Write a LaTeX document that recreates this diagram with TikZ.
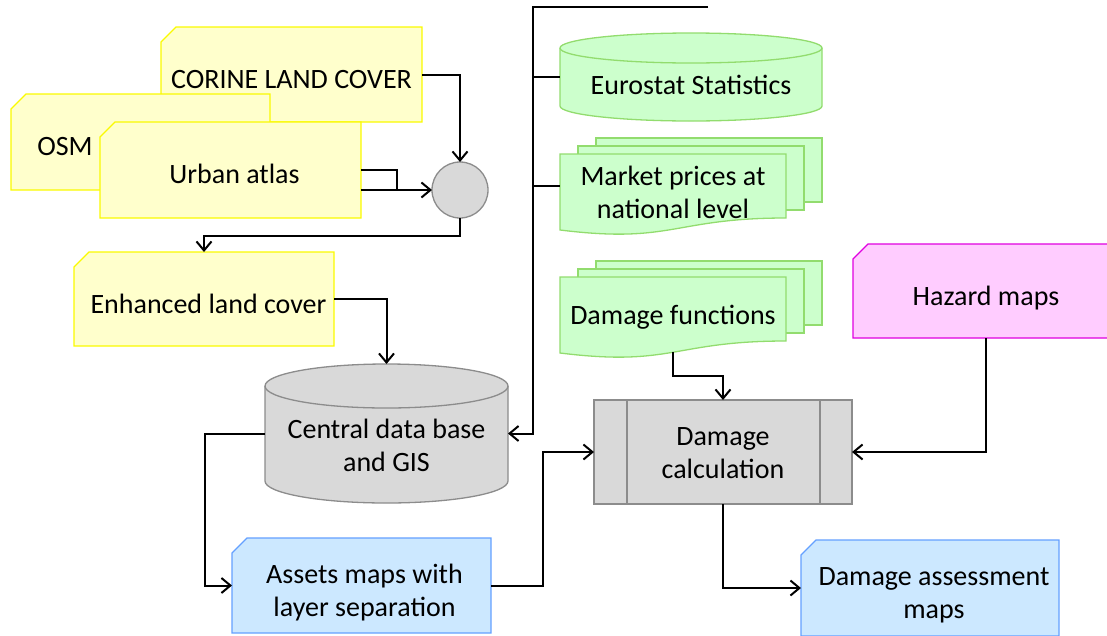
\documentclass[tikz,border=0pt]{standalone}
\usepackage{fontspec}
\setmainfont{Carlito}
\usetikzlibrary{arrows.meta,calc,backgrounds}
\definecolor{yfill}{RGB}{255,255,204}
\definecolor{ydraw}{RGB}{250,250,0}
\definecolor{gfill}{RGB}{204,255,204}
\definecolor{gdraw}{RGB}{146,220,110}
\definecolor{kfill}{RGB}{217,217,217}
\definecolor{kdraw}{RGB}{140,140,140}
\definecolor{pfill}{RGB}{255,204,255}
\definecolor{pdraw}{RGB}{224,0,224}
\definecolor{bfill}{RGB}{204,232,255}
\definecolor{bdraw}{RGB}{100,160,255}
% card (cut north-west corner)
\newcommand\cardshape[3]{\filldraw[fill=#1,draw=#2,shapeline] ($(#3.north west)+(0,15)$) -- ($(#3.north west)+(15,0)$) -- (#3.north east) -- (#3.south east) -- (#3.south west) -- cycle;}
% multi-document
\newcommand\docshape[1]{%
  \filldraw[fill=gfill,draw=gdraw,shapeline] ($(#1.north west)+(36,-16)$) rectangle ($(#1.south east)+(36,-16)$);
  \filldraw[fill=gfill,draw=gdraw,shapeline] ($(#1.north west)+(18,-8)$) rectangle ($(#1.south east)+(18,-8)$);
  \filldraw[fill=gfill,draw=gdraw,shapeline] (#1.north west) -- (#1.north east) -- (#1.south east) .. controls (#1.south) and ($(#1.south)+(0,26)$) .. ($(#1.south west)+(0,12)$) -- cycle;}
% cylinder: #1 node, #2 x radius, #3 y radius, #4 fill, #5 draw
\newcommand\cylshape[5]{%
  \filldraw[fill=#4,draw=#5,shapeline] ($(#1.north west)+(0,#3)$) -- ($(#1.south west)+(0,-#3)$) arc[start angle=180,end angle=360,x radius=#2pt,y radius=#3pt] -- ($(#1.north east)+(0,#3)$) arc[start angle=0,end angle=180,x radius=#2pt,y radius=#3pt] -- cycle;
  \draw[draw=#5,shapeline] ($(#1.north west)+(0,#3)$) arc[start angle=180,end angle=360,x radius=#2pt,y radius=#3pt];}
\begin{document}
\begin{tikzpicture}[x=1pt,y=-1pt,
  font=\fontsize{28}{33}\selectfont,
  box/.style={inner sep=0pt,outer sep=0pt},
  shapeline/.style={line width=1.3pt},
  line/.style={line width=2pt},
  conn/.style={line width=2pt,-{Straight Barb[length=9pt,width=15pt]}},
  every label/.style={inner sep=0pt,align=center}]
\useasboundingbox (0,0) rectangle (1107,635);

% nodes (text on main layer)
\node[box,minimum width=261pt,minimum height=95pt,label={[yshift=-5pt]center:CORINE LAND COVER}] (corine) at (291.5,74.5) {};
\node[box,minimum width=259pt,minimum height=96pt,label={[xshift=-75.5pt,yshift=-5pt]center:OSM}] (osm) at (140.5,142) {};
\node[box,minimum width=261pt,minimum height=96pt,label={[xshift=4pt,yshift=-4pt]center:Urban atlas}] (urban) at (230.5,170) {};
\node[box,circle,minimum size=56pt,draw=kdraw,fill=kfill,shapeline] (circ) at (460,190) {};
\node[box,minimum width=260pt,minimum height=94pt,label={[xshift=4.5pt,yshift=-5pt]center:Enhanced land cover}] (enh) at (204,299) {};
\node[box,minimum width=243pt,minimum height=139pt,label={[yshift=-12pt]center:{Central data base\\and GIS}}] (db) at (386.5,433.5) {};
\node[box,minimum width=262pt,minimum height=88pt,label={[yshift=-8pt]center:Eurostat Statistics}] (euro) at (691,77) {};
\node[box,minimum width=226pt,minimum height=64pt,label={[yshift=-6pt]center:{Market prices at\\national level}}] (market) at (673,186) {};
\node[box,minimum width=226pt,minimum height=64pt,label={[yshift=-8.5pt]center:Damage functions}] (dmgf) at (673,309) {};
\node[box,minimum width=266pt,minimum height=94pt,label={[yshift=-7pt]center:Hazard maps}] (hazard) at (986,291) {};
\node[box,minimum width=258pt,minimum height=104pt,draw=kdraw,fill=kfill,shapeline,label={[yshift=-1pt]center:{Damage\\calculation}}] (calc) at (723,452) {};
\node[box,minimum width=259pt,minimum height=95pt,label={[xshift=3pt,yshift=-7pt]center:{Assets maps with\\layer separation}}] (assets) at (361.5,585.5) {};
\node[box,minimum width=258pt,minimum height=96pt,label={[xshift=4pt,yshift=-7pt]center:{Damage assessment\\maps}}] (dassess) at (930,588) {};
\draw[draw=kdraw,shapeline] ($(calc.north west)+(33,0)$) -- ($(calc.south west)+(33,0)$);
\draw[draw=kdraw,shapeline] ($(calc.north east)+(-32,0)$) -- ($(calc.south east)+(-32,0)$);

% shapes behind the texts
\begin{pgfonlayer}{background}
\cardshape{yfill}{ydraw}{corine}
\cardshape{yfill}{ydraw}{osm}
\cardshape{yfill}{ydraw}{urban}
\cardshape{yfill}{ydraw}{enh}
\cylshape{db}{121.5}{22}{kfill}{kdraw}
\cylshape{euro}{131}{15}{gfill}{gdraw}
\docshape{market}
\docshape{dmgf}
\cardshape{pfill}{pdraw}{hazard}
\cardshape{bfill}{bdraw}{assets}
\cardshape{bfill}{bdraw}{dassess}
\end{pgfonlayer}

% helper coordinates
\coordinate (bustop) at (708,7);
\coordinate (busx) at (533,0);
\coordinate (mkty) at (0,186);
\coordinate (uj) at (397,190);
\coordinate (cj) at (0,236);

% connectors
\draw[conn] (corine.east) -| (circ.north);
\draw[line] (urban.east) -| (uj);
\draw[conn] (urban.east |- circ.west) -- (circ.west);
\draw[conn] (circ.south) -- (circ.south |- cj) -| (enh.north);
\draw[conn] (enh.east) -| (db.north);
\draw[conn] (db.west) -| ($(assets.west)+(-27,0)$) -- (assets.west);
\draw[conn] (bustop) -| (busx |- db.east) -- (db.east);
\draw[line] (busx |- euro.west) -- (euro.west);
\draw[line] (busx |- mkty) -- (market.west);
\draw[conn] ($(dmgf.south)+(0,11)$) |- ($($(dmgf.south)+(0,11)$)!0.5!(calc.north)$) -| (calc.north);
\draw[conn] (assets.east) -| ($(assets.east)!0.5!(calc.west)$) |- (calc.west);
\draw[conn] (hazard.south) |- (calc.east);
\draw[conn] (calc.south) |- (dassess.west);
\end{tikzpicture}
\end{document}
